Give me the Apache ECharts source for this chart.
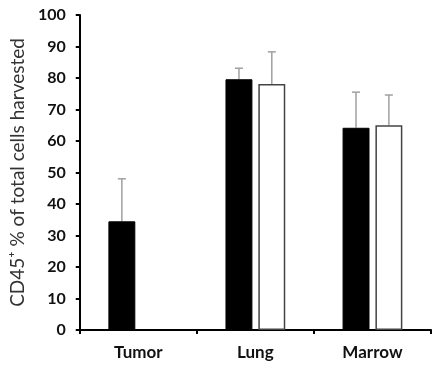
<!DOCTYPE html>
<html>
<head>
<meta charset="utf-8">
<script src="https://cdn.jsdelivr.net/npm/echarts@6/dist/echarts.min.js"></script>
<style>
  html, body { margin: 0; padding: 0; background: #fff; }
  #chart { width: 432px; height: 371px; }
</style>
</head>
<body>
<div id="chart"></div>
<script>
// Sites harvested and CD45+ fractions (mean and upper SD) per group
const categories = ['Tumor', 'Lung', 'Marrow'];
const groupAMean = [34.5, 79.6, 64.2];
const groupAErr  = [13.5, 3.5, 11.3];
const groupBMean = [null, 78.1, 65.0];
const groupBErr  = [null, 10.2, 9.6];
const yTicks = [0, 10, 20, 30, 40, 50, 60, 70, 80, 90, 100];

const FONT = 'Lato, "Open Sans", sans-serif';
const BAR_W = 0.23;   // bar width as a fraction of the category band
const GAP = 0.22;     // gap between the paired bars, as a fraction of bar width

const chart = echarts.init(document.getElementById('chart'), null, { renderer: 'canvas' });

// Upward-only error whiskers, offset to sit on top of the matching bar
function errorSeries(means, errs, side) {
  const pts = [];
  means.forEach((m, i) => { if (m != null) pts.push([i, m, m + errs[i]]); });
  return {
    type: 'custom',
    z: 1,
    encode: { x: 0, y: [1, 2] },
    data: pts,
    renderItem: function (params, api) {
      const band = api.size([1, 0])[0];
      const bw = band * BAR_W;
      const off = side * (bw + bw * GAP) / 2;
      const base = api.coord([api.value(0), api.value(1)]);
      const top = api.coord([api.value(0), api.value(2)]);
      const x = base[0] + off;
      const cap = 4;
      const style = { stroke: '#a0a0a0', lineWidth: 1.5 };
      return {
        type: 'group',
        children: [
          { type: 'line', shape: { x1: x, y1: base[1], x2: x, y2: top[1] }, style: style },
          { type: 'line', shape: { x1: x - cap, y1: top[1], x2: x + cap, y2: top[1] }, style: style }
        ]
      };
    }
  };
}

chart.setOption({
  animation: false,
  backgroundColor: '#ffffff',
  grid: { left: 79, right: 1, top: 15, bottom: 41 },
  xAxis: {
    type: 'category',
    data: categories,
    axisLine: { lineStyle: { color: '#000', width: 2 } },
    axisTick: { show: true, length: 4, lineStyle: { color: '#000', width: 2 } },
    axisLabel: { color: '#111', fontFamily: FONT, fontWeight: 'bold', fontSize: 17, margin: 14 }
  },
  yAxis: {
    type: 'value',
    min: yTicks[0],
    max: yTicks[yTicks.length - 1],
    interval: 10,
    name: 'CD45\u207A % of total cells harvested',
    nameLocation: 'middle',
    nameGap: 50,
    nameTextStyle: { color: '#333', fontFamily: FONT, fontSize: 19 },
    axisLine: { show: true, lineStyle: { color: '#000', width: 2 } },
    axisTick: { show: true, length: 4, lineStyle: { color: '#000', width: 2 } },
    axisLabel: { color: '#111', fontFamily: FONT, fontWeight: 'bold', fontSize: 16, margin: 14 },
    splitLine: { show: false }
  },
  series: [
    {
      type: 'bar',
      data: groupAMean,
      barWidth: (BAR_W * 100) + '%',
      barGap: (GAP * 100) + '%',
      itemStyle: { color: '#000', borderColor: '#000', borderWidth: 1 },
      z: 2
    },
    {
      type: 'bar',
      data: groupBMean,
      barWidth: (BAR_W * 100) + '%',
      barGap: (GAP * 100) + '%',
      itemStyle: { color: '#fff', borderColor: '#444', borderWidth: 1.5 },
      z: 2
    },
    errorSeries(groupAMean, groupAErr, -1),
    errorSeries(groupBMean, groupBErr, 1)
  ]
});
</script>
</body>
</html>
